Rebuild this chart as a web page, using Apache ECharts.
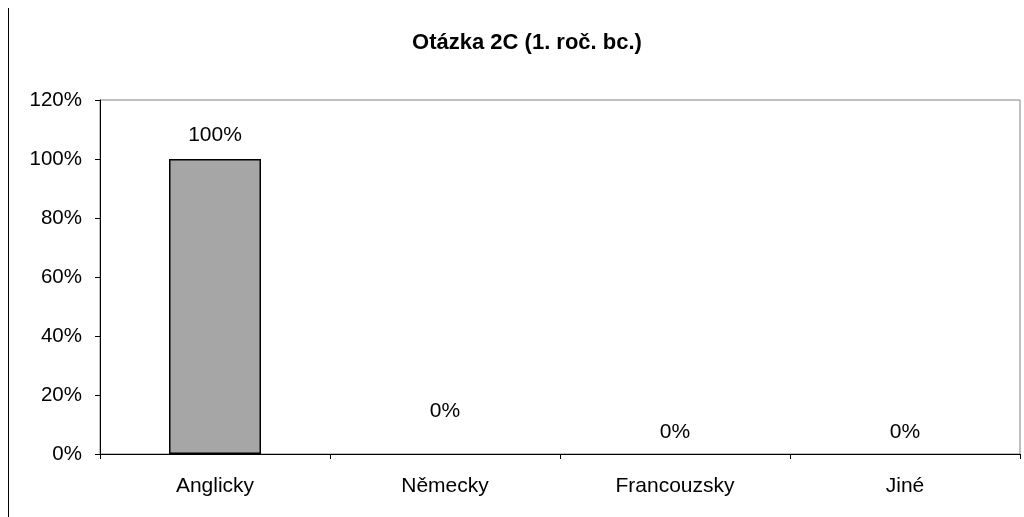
<!DOCTYPE html>
<html>
<head>
<meta charset="utf-8">
<script src="https://cdn.jsdelivr.net/npm/echarts@6/dist/echarts.min.js"></script>
<style>
  html, body { margin: 0; padding: 0; background: #fff; }
  #chart { width: 1024px; height: 517px; }
</style>
</head>
<body>
<div id="chart"></div>
<script>
// data
const categories = ['Anglicky', 'Německy', 'Francouzsky', 'Jiné']
const values = [100, 0, 0, 0]
const yTicks = [0, 20, 40, 60, 80, 100, 120]

// label distance above each bar (the Německy label sits higher in the source)
const labelLift = [13, 32, 11, 11]

const font = 'Liberation Sans, Arial, sans-serif'

const chart = echarts.init(document.getElementById('chart'))

chart.setOption({
  animation: false,
  title: {
    text: 'Otázka 2C (1. roč. bc.)',
    left: 522,
    textAlign: 'center',
    top: 27,
    textStyle: {fontFamily: font, fontSize: 22, fontWeight: 'bold', color: '#000'}
  },
  grid: {
    left: 100, right: 4, top: 100, bottom: 63,
    show: true, borderColor: '#808080', borderWidth: 1, backgroundColor: 'transparent'
  },
  xAxis: {
    type: 'category',
    data: categories,
    axisLine: {lineStyle: {color: '#000', width: 1}},
    axisTick: {show: true, length: 5, alignWithLabel: false, lineStyle: {color: '#000'}},
    axisLabel: {fontFamily: font, fontSize: 21, color: '#000', margin: 22}
  },
  yAxis: {
    type: 'value',
    min: yTicks[0],
    max: yTicks[yTicks.length - 1],
    interval: yTicks[1] - yTicks[0],
    splitLine: {show: false},
    axisLine: {show: true, lineStyle: {color: '#000', width: 1}},
    axisTick: {show: true, length: 5, lineStyle: {color: '#000'}},
    axisLabel: {fontFamily: font, fontSize: 20.5, color: '#000', margin: 18, formatter: '{value}%'}
  },
  series: [{
    type: 'bar',
    barWidth: '40%',
    itemStyle: {color: '#a6a6a6', borderColor: '#000', borderWidth: 1.5},
    label: {
      show: true,
      position: 'top',
      fontFamily: font,
      fontSize: 21,
      color: '#000',
      formatter: p => p.value + '%'
    },
    data: values.map((v, i) => ({
      value: v,
      label: {distance: labelLift[i]},
      itemStyle: v === 0 ? {borderWidth: 0} : undefined
    }))
  }],
  graphic: [{
    type: 'line',
    shape: {x1: 8.5, y1: 8, x2: 8.5, y2: 517},
    style: {stroke: '#000', lineWidth: 1}
  }]
})
</script>
</body>
</html>
